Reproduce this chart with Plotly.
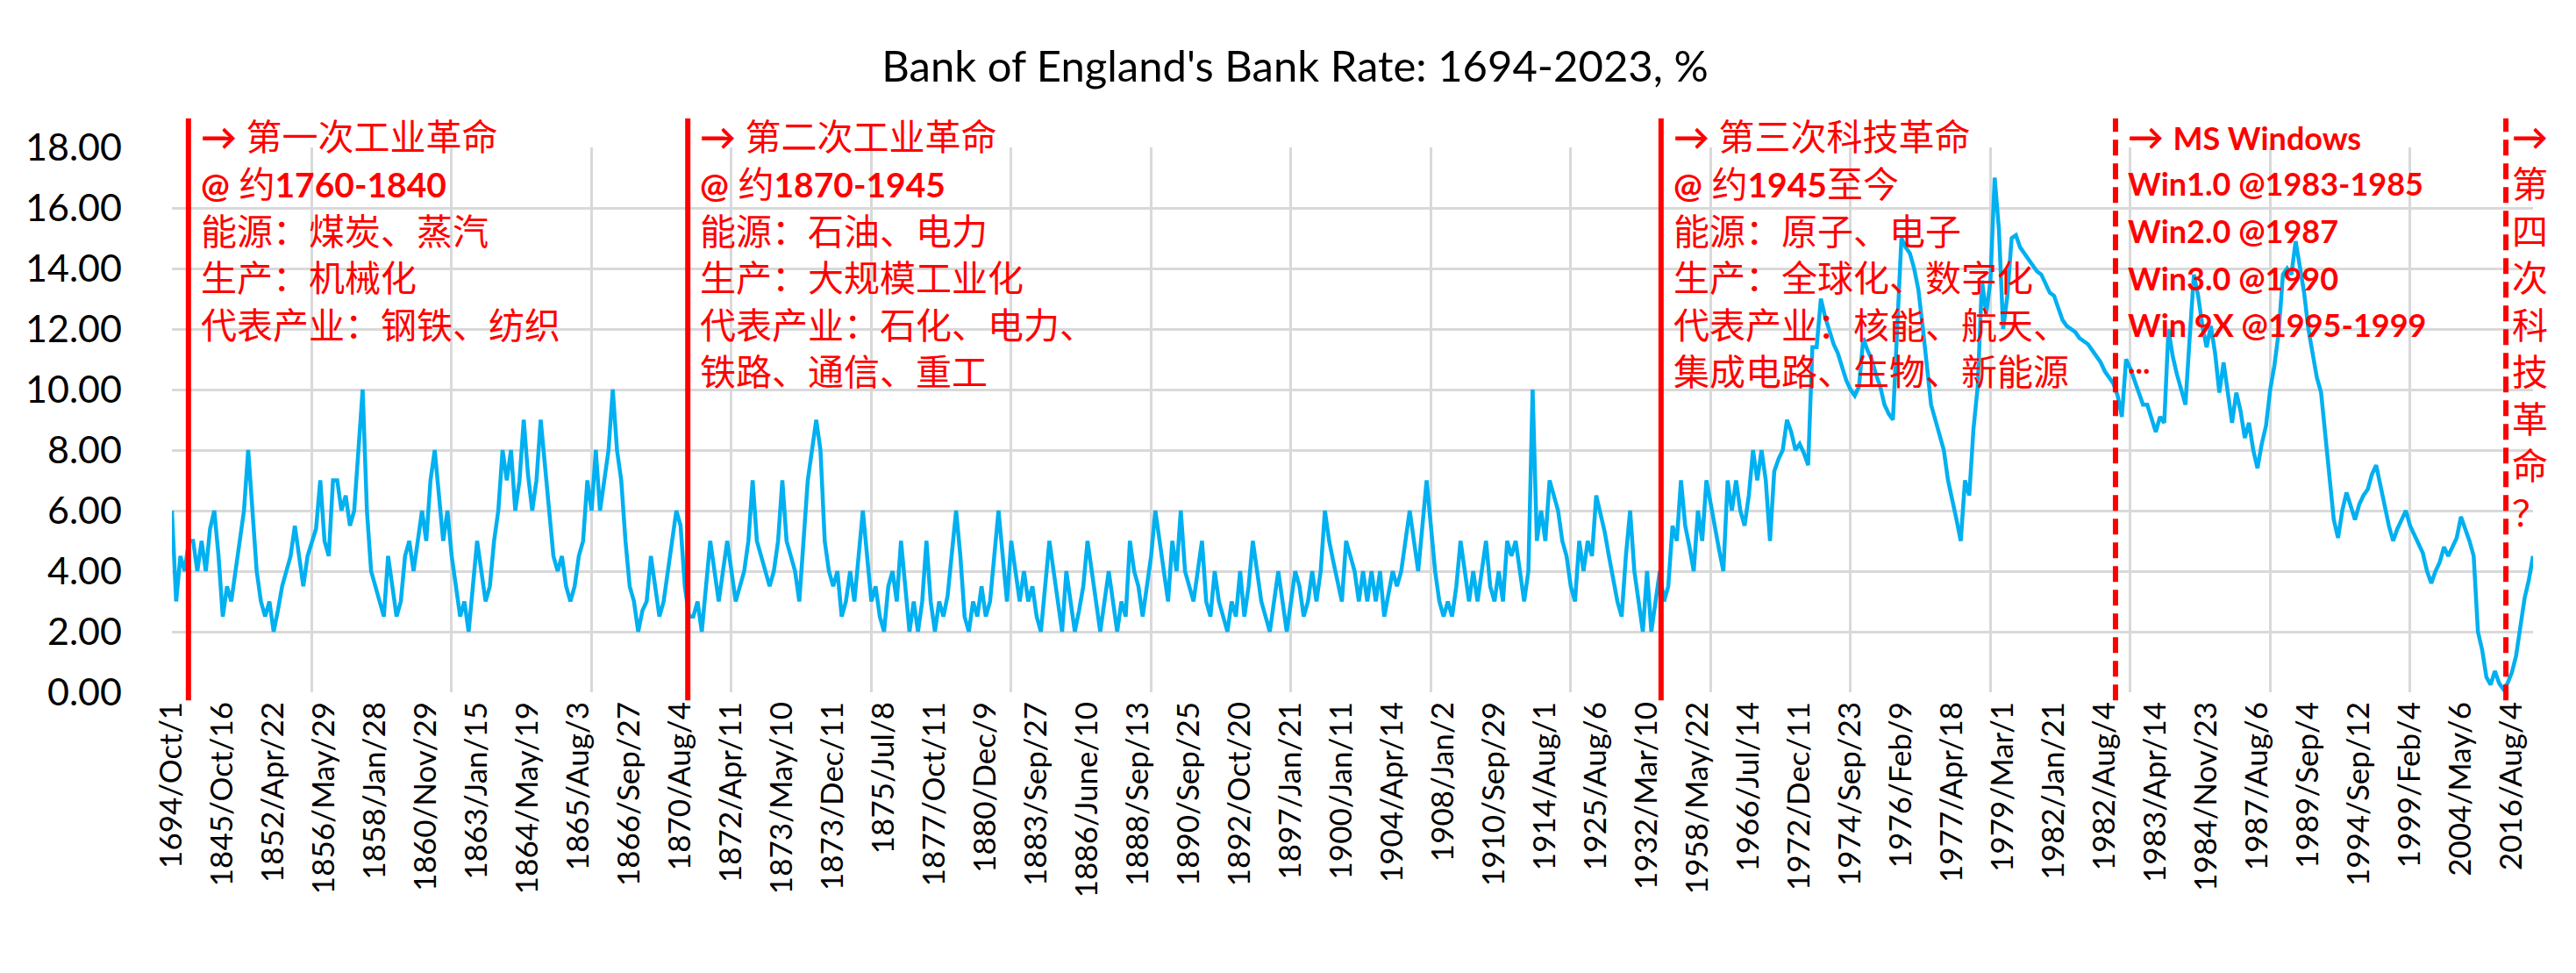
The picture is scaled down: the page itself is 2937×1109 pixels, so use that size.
import plotly.graph_objects as go

# Bank Rate (%) per category
rates = [
    6.0, 3.0, 4.5, 4.0, 5.0, 5.0, 4.0, 5.0, 4.0, 5.4,
    6.0, 4.5, 2.5, 3.5, 3.0, 4.0, 5.0, 6.0, 8.0, 6.0,
    4.0, 3.0, 2.5, 3.0, 2.0, 2.7, 3.5, 4.0, 4.5, 5.5,
    4.5, 3.5, 4.5, 5.0, 5.4, 7.0, 5.0, 4.5, 7.0, 7.0,
    6.0, 6.5, 5.5, 6.0, 8.0, 10.0, 6.0, 4.0, 3.5, 3.0,
    2.5, 4.5, 3.5, 2.5, 3.0, 4.5, 5.0, 4.0, 5.0, 6.0,
    5.0, 7.0, 8.0, 6.5, 5.0, 6.0, 4.5, 3.5, 2.5, 3.0,
    2.0, 3.5, 5.0, 4.0, 3.0, 3.5, 5.0, 6.0, 8.0, 7.0,
    8.0, 6.0, 7.0, 9.0, 7.2, 6.0, 7.0, 9.0, 7.5, 6.0,
    4.5, 4.0, 4.5, 3.5, 3.0, 3.5, 4.5, 5.0, 7.0, 6.0,
    8.0, 6.0, 7.0, 8.0, 10.0, 8.0, 7.0, 5.0, 3.5, 3.0,
    2.0, 2.7, 3.0, 4.5, 3.5, 2.5, 3.0, 4.0, 5.0, 6.0,
    5.5, 3.5, 2.5, 2.5, 3.0, 2.0, 3.5, 5.0, 4.0, 3.0,
    4.0, 5.0, 4.0, 3.0, 3.5, 4.0, 5.0, 7.0, 5.0, 4.5,
    4.0, 3.5, 4.0, 5.0, 7.0, 5.0, 4.5, 4.0, 3.0, 5.0,
    7.0, 8.0, 9.0, 8.0, 5.0, 4.0, 3.5, 4.0, 2.5, 3.0,
    4.0, 3.0, 4.5, 6.0, 4.5, 3.0, 3.5, 2.5, 2.0, 3.5,
    4.0, 3.0, 5.0, 3.5, 2.0, 3.0, 2.0, 3.0, 5.0, 3.0,
    2.0, 3.0, 2.5, 3.2, 4.5, 6.0, 4.5, 2.5, 2.0, 3.0,
    2.5, 3.5, 2.5, 3.0, 4.5, 6.0, 4.5, 3.0, 5.0, 4.0,
    3.0, 4.0, 3.0, 3.5, 2.5, 2.0, 3.5, 5.0, 4.0, 3.0,
    2.0, 4.0, 3.0, 2.0, 2.7, 3.5, 5.0, 4.0, 3.0, 2.0,
    3.0, 4.0, 3.0, 2.0, 3.0, 2.5, 5.0, 4.0, 3.5, 2.5,
    3.5, 4.5, 6.0, 5.0, 4.0, 3.0, 5.0, 4.0, 6.0, 4.0,
    3.5, 3.0, 4.0, 5.0, 3.0, 2.5, 4.0, 3.0, 2.5, 2.0,
    3.0, 2.5, 4.0, 2.5, 3.5, 5.0, 4.0, 3.0, 2.5, 2.0,
    3.0, 4.0, 3.0, 2.0, 3.0, 4.0, 3.5, 2.5, 3.0, 4.0,
    3.0, 4.0, 6.0, 5.0, 4.3, 3.6, 3.0, 5.0, 4.5, 4.0,
    3.0, 4.0, 3.0, 4.0, 3.0, 4.0, 2.5, 3.2, 4.0, 3.5,
    4.0, 5.0, 6.0, 5.0, 4.0, 5.5, 7.0, 5.5, 4.0, 3.0,
    2.5, 3.0, 2.5, 3.5, 5.0, 4.0, 3.0, 4.0, 3.0, 4.0,
    5.0, 3.5, 3.0, 4.0, 3.0, 5.0, 4.5, 5.0, 4.0, 3.0,
    4.0, 10.0, 5.0, 6.0, 5.0, 7.0, 6.5, 6.0, 5.0, 4.5,
    3.5, 3.0, 5.0, 4.0, 5.0, 4.5, 6.5, 5.9, 5.3, 4.5,
    3.7, 3.0, 2.5, 4.5, 6.0, 4.0, 3.0, 2.0, 4.0, 2.0,
    3.0, 4.0, 3.0, 3.5, 5.5, 5.0, 7.0, 5.5, 4.8, 4.0,
    6.0, 5.0, 7.0, 6.2, 5.5, 4.7, 4.0, 7.0, 6.0, 7.0,
    6.0, 5.5, 6.5, 8.0, 7.0, 8.0, 7.0, 5.0, 7.3, 7.7,
    8.0, 9.0, 8.6, 8.0, 8.2, 7.9, 7.5, 11.4, 11.4, 13.0,
    12.4, 11.9, 11.5, 11.2, 10.7, 10.3, 10.0, 9.8, 10.1, 11.7,
    11.3, 11.0, 10.5, 10.1, 9.5, 9.2, 9.0, 12.0, 15.0, 14.7,
    14.5, 14.0, 13.3, 12.1, 10.7, 9.5, 9.0, 8.5, 8.0, 7.0,
    6.4, 5.7, 5.0, 7.0, 6.5, 8.7, 10.1, 13.6, 12.5, 13.6,
    17.0, 15.3, 12.0, 13.1, 15.0, 15.1, 14.7, 14.5, 14.3, 14.1,
    13.9, 13.8, 13.5, 13.2, 13.1, 12.7, 12.3, 12.1, 12.0, 11.9,
    11.7, 11.6, 11.5, 11.3, 11.1, 10.9, 10.6, 10.4, 10.2, 9.8,
    9.1, 11.0, 10.7, 10.3, 9.9, 9.5, 9.5, 9.0, 8.6, 9.1,
    8.9, 12.0, 11.1, 10.5, 10.0, 9.5, 11.7, 13.8, 13.1, 12.1,
    11.4, 12.1, 11.2, 9.9, 10.9, 9.8, 8.9, 9.9, 9.3, 8.4,
    8.9, 8.0, 7.4, 8.2, 8.8, 10.0, 10.8, 11.9, 13.8, 14.0,
    13.8, 14.9, 14.0, 13.2, 12.0, 11.2, 10.4, 9.9, 8.6, 7.2,
    5.7, 5.1, 6.0, 6.6, 6.1, 5.7, 6.2, 6.5, 6.7, 7.2,
    7.5, 6.8, 6.2, 5.5, 5.0, 5.4, 5.7, 6.0, 5.5, 5.2,
    4.9, 4.6, 4.0, 3.6, 4.0, 4.3, 4.8, 4.5, 4.8, 5.1,
    5.8, 5.4, 5.0, 4.5, 2.0, 1.4, 0.5, 0.25, 0.7, 0.3,
    0.1, 0.3, 0.65, 1.2, 2.1, 3.1, 3.7, 4.5,
]

# category labels shown on the axis (every LABEL_STEP-th category)
tick_labels = [
    "1694/Oct/1", "1845/Oct/16", "1852/Apr/22", "1856/May/29", "1858/Jan/28",
    "1860/Nov/29", "1863/Jan/15", "1864/May/19", "1865/Aug/3", "1866/Sep/27",
    "1870/Aug/4", "1872/Apr/11", "1873/May/10", "1873/Dec/11", "1875/Jul/8",
    "1877/Oct/11", "1880/Dec/9", "1883/Sep/27", "1886/June/10", "1888/Sep/13",
    "1890/Sep/25", "1892/Oct/20", "1897/Jan/21", "1900/Jan/11", "1904/Apr/14",
    "1908/Jan/2", "1910/Sep/29", "1914/Aug/1", "1925/Aug/6", "1932/Mar/10",
    "1958/May/22", "1966/Jul/14", "1972/Dec/11", "1974/Sep/23", "1976/Feb/9",
    "1977/Apr/18", "1979/Mar/1", "1982/Jan/21", "1982/Aug/4", "1983/Apr/14",
    "1984/Nov/23", "1987/Aug/6", "1989/Sep/4", "1994/Sep/12", "1999/Feb/4",
    "2004/May/6", "2016/Aug/4",
]
LABEL_STEP = 12
GRID_STEP = 33

# era markers (category positions) and their texts
era_positions = [3.9, 121.7, 351.3, 458.5, 550.6]
era_dashed = [False, False, False, True, True]

B = '<span style="font-size:39px"><b>{}</b></span>'   # Latin inside CJK blocks
M = '<span style="font-size:36px"><b>{}</b></span>'   # MS Windows block
era_texts = [
    ["<b>→</b> 第一次工业革命",
     B.format("@") + " 约" + B.format("1760-1840"),
     "能源：煤炭、蒸汽",
     "生产：机械化",
     "代表产业：钢铁、纺织"],
    ["<b>→</b> 第二次工业革命",
     B.format("@") + " 约" + B.format("1870-1945"),
     "能源：石油、电力",
     "生产：大规模工业化",
     "代表产业：石化、电力、",
     "铁路、通信、重工"],
    ["<b>→</b> 第三次科技革命",
     B.format("@") + " 约" + B.format("1945") + "至今",
     "能源：原子、电子",
     "生产：全球化、数字化",
     "代表产业：核能、航天、",
     "集成电路、生物、新能源"],
    ["<b>→</b> " + M.format("MS Windows"),
     M.format("Win1.0 @1983-1985"),
     M.format("Win2.0 @1987"),
     M.format("Win3.0 @1990"),
     M.format("Win 9X @1995-1999"),
     M.format("...")],
    ["<b>→</b>", "第", "四", "次", "科", "技", "革", "命", "？"],
]
era_xshift = [13, 13, 13, 13, 6]

W, H = 2937, 1109
PL, PR, PT, PB = 188, 57, 160, 328
plot_h = H - PT - PB

FONT = "Lato, 'Noto Sans CJK SC', sans-serif"

fig = go.Figure()
fig.add_trace(go.Scatter(
    x=list(range(len(rates))), y=rates, mode="lines",
    line=dict(color="#00B0F0", width=4.5), hoverinfo="skip", showlegend=False,
))

for pos, dashed in zip(era_positions, era_dashed):
    fig.add_shape(type="line", xref="x", yref="paper", x0=pos, x1=pos,
                  y0=-0.015, y1=1.053,
                  line=dict(color="#FF0000", width=6,
                            dash="18px,9px" if dashed else "solid"))

def line_y(k):
    y_px = 148 + 53.5 * k
    return (H - PB - y_px) / plot_h

for pos, lines, xs in zip(era_positions, era_texts, era_xshift):
    for k, txt in enumerate(lines):
        yshift = 12 if txt.endswith("...</b></span>") else 0
        fig.add_annotation(x=pos, xref="x", xshift=xs, xanchor="left",
                           y=line_y(k), yref="paper", yanchor="middle",
                           yshift=yshift, borderpad=0,
                           text=txt, showarrow=False, align="left",
                           font=dict(family=FONT, size=41, color="#FF0000"))

fig.update_layout(
    width=W, height=H,
    margin=dict(l=PL, r=PR, t=PT, b=PB, pad=0),
    paper_bgcolor="white", plot_bgcolor="white",
    title=dict(text="Bank of England's Bank Rate: 1694-2023, %",
               x=0.5, xanchor="center", xref="container",
               y=1 - 68 / H, yanchor="middle", yref="container",
               font=dict(family=FONT, size=49, color="#000000")),
    showlegend=False,
)
fig.update_xaxes(
    type="linear", range=[0, len(rates) - 1], automargin=False,
    tickmode="array",
    tickvals=[i * LABEL_STEP for i in range(len(tick_labels))],
    ticktext=tick_labels, tickangle=-90, ticks="",
    ticklabelstandoff=3,
    tickfont=dict(family=FONT, size=35, color="#000000"),
    showgrid=False, zeroline=False, showline=False,
    minor=dict(tickmode="linear", tick0=0, dtick=GRID_STEP, showgrid=True,
               gridcolor="#D9D9D9", gridwidth=2.5, ticks=""),
)
fig.update_yaxes(
    range=[0, 18], dtick=2, tick0=0, tickformat=".2f", automargin=False,
    ticks="", ticklabelstandoff=56,
    tickfont=dict(family=FONT, size=43, color="#000000"),
    showgrid=True, gridcolor="#D9D9D9", gridwidth=2.5,
    zeroline=False, showline=False,
)

fig.write_html("out.html")
